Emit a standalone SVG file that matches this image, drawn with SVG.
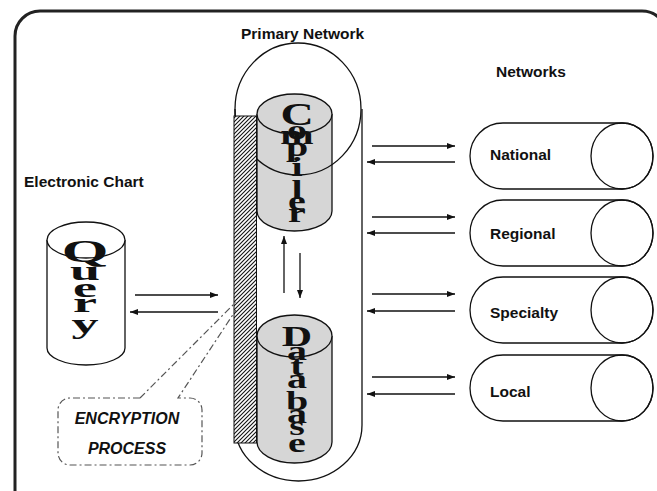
<svg xmlns="http://www.w3.org/2000/svg" width="657" height="491" viewBox="0 0 657 491">
  <defs>
    <pattern id="hatch" patternUnits="userSpaceOnUse" width="4" height="4">
      <rect width="4" height="4" fill="#fff"/>
      <path d="M-1,1 L1,-1 M0,4 L4,0 M3,5 L5,3" stroke="#111" stroke-width="1.1"/>
    </pattern>
    <marker id="ah" markerWidth="8" markerHeight="6" refX="8" refY="3" orient="auto" markerUnits="userSpaceOnUse">
      <path d="M0,0 L8,3 L0,6 Z" fill="#111"/>
    </marker>
  </defs>
  <style>
    .ln{fill:none;stroke:#111;stroke-width:1.3}
    .cyl{fill:#d6d6d6;stroke:#111;stroke-width:1.3}
    .cylw{fill:#fff;stroke:#111;stroke-width:1.3}
    .lbl{font-family:"Liberation Sans",Arial,sans-serif;font-weight:bold;font-size:15.5px;fill:#111}
    .ser{font-family:"Liberation Serif","Times New Roman",serif;font-weight:bold;fill:#111;text-anchor:middle}
    .arr{fill:none;stroke:#111;stroke-width:1.3;marker-end:url(#ah)}
    .dd{fill:none;stroke:#555;stroke-width:1.2;stroke-dasharray:7 3 2 3}
    .enc{font-family:"Liberation Sans",Arial,sans-serif;font-weight:bold;font-style:italic;font-size:16px;fill:#111;text-anchor:middle}
  </style>

  <rect width="657" height="491" fill="#fff"/>

  <!-- outer frame -->
  <path id="frame" d="M15,491 V36 A25,25 0 0 1 40,11 H642 A25,25 0 0 1 667,36 V491" fill="none" stroke="#222" stroke-width="3"/>

  <!-- titles -->
  <g id="titles">
    <text class="lbl" x="241" y="39">Primary Network</text>
    <text class="lbl" x="496" y="77">Networks</text>
    <text class="lbl" x="24" y="187" font-size="15px">Electronic Chart</text>
  </g>

  <!-- primary network pill -->
  <g id="primary-network">
    <path class="ln" d="M235,109 L235,425 A63.5,56 0 0 0 362,425 L362,109"/>
  </g>

  <!-- compiler cylinder, letters stacked vertically (y values in scaled space) -->
  <g id="compiler">
    <path class="cyl" d="M257,114 L257,211 A37.5,20 0 0 0 332,211 L332,114"/>
    <ellipse class="cyl" cx="294.5" cy="114" rx="37.5" ry="20"/>
    <ellipse class="ln" cx="298" cy="109" rx="63" ry="66"/>
    <text class="ser" font-size="40" transform="translate(297,0) scale(1,0.68)"><tspan x="0" y="183.8" font-size="46">C</tspan><tspan x="0" y="204.4">o</tspan><tspan x="0" y="211.8">m</tspan><tspan x="0" y="229.4">p</tspan><tspan x="0" y="258.8">i</tspan><tspan x="0" y="292.6">l</tspan><tspan x="0" y="308.8">e</tspan><tspan x="0" y="326.5">r</tspan></text>
  </g>

  <!-- database cylinder -->
  <g id="database">
    <path class="cyl" d="M257,336 L257,442 A37.5,21 0 0 0 332,442 L332,336"/>
    <ellipse class="cyl" cx="294.5" cy="336" rx="37.5" ry="21"/>
    <text class="ser" font-size="40" transform="translate(297,0) scale(1,0.68)"><tspan x="0" y="508.8" font-size="42">D</tspan><tspan x="0" y="529.4">a</tspan><tspan x="0" y="551.5">t</tspan><tspan x="0" y="570.6">a</tspan><tspan x="0" y="602.9">b</tspan><tspan x="0" y="622.1">a</tspan><tspan x="0" y="639.7">s</tspan><tspan x="0" y="664.7">e</tspan></text>
  </g>

  <!-- encryption layer -->
  <rect id="encryption-layer" x="234" y="116" width="22.5" height="327" fill="url(#hatch)" stroke="#111" stroke-width="1"/>

  <!-- query cylinder -->
  <g id="query">
    <path class="cylw" d="M47,240 L47,348 A39,17 0 0 0 125,348 L125,240"/>
    <ellipse class="cylw" cx="86" cy="240" rx="39" ry="18"/>
    <text class="ser" font-size="54" transform="translate(85,0) scale(1,0.52)"><tspan x="0" y="503.8" font-size="60">Q</tspan><tspan x="0" y="538.5">u</tspan><tspan x="0" y="571.2">e</tspan><tspan x="0" y="600">r</tspan><tspan x="0" y="640.4">y</tspan></text>
  </g>

  <!-- encryption process callout -->
  <g id="callout">
    <path class="dd" d="M140,398 H70 A12,12 0 0 0 58,410 V453 A12,12 0 0 0 70,465 H190 A12,12 0 0 0 202,453 V410 A12,12 0 0 0 190,398 H178 L236,310 M140,398 L236,302"/>
    <text class="enc" x="127" y="424">ENCRYPTION</text>
    <text class="enc" x="127" y="454">PROCESS</text>
  </g>

  <!-- external networks -->
  <g id="national">
    <path class="ln" d="M503,123 H622 A31,33 0 0 1 622,189 H503 A33,33 0 0 1 503,123 Z"/>
    <ellipse class="ln" cx="622" cy="156" rx="31" ry="33"/>
    <text class="lbl" x="490" y="160">National</text>
  </g>
  <g id="regional">
    <path class="ln" d="M503,200 H622 A31,33 0 0 1 622,266 H503 A33,33 0 0 1 503,200 Z"/>
    <ellipse class="ln" cx="622" cy="233" rx="31" ry="33"/>
    <text class="lbl" x="490" y="239">Regional</text>
  </g>
  <g id="specialty">
    <path class="ln" d="M503,277 H622 A31,33 0 0 1 622,343 H503 A33,33 0 0 1 503,277 Z"/>
    <ellipse class="ln" cx="622" cy="310" rx="31" ry="33"/>
    <text class="lbl" x="490" y="318">Specialty</text>
  </g>
  <g id="local">
    <path class="ln" d="M503,355 H622 A31,33 0 0 1 622,421 H503 A33,33 0 0 1 503,355 Z"/>
    <ellipse class="ln" cx="622" cy="388" rx="31" ry="33"/>
    <text class="lbl" x="490" y="397">Local</text>
  </g>

  <!-- connectors -->
  <g id="connectors">
    <path class="arr" d="M135,295 H218"/>
    <path class="arr" d="M218,312 H130"/>
    <path class="arr" d="M284,293 V236"/>
    <path class="arr" d="M300,253 V298"/>
    <path class="arr" d="M372,146 H455"/>
    <path class="arr" d="M455,162 H367"/>
    <path class="arr" d="M372,217 H455"/>
    <path class="arr" d="M455,233 H367"/>
    <path class="arr" d="M372,294 H455"/>
    <path class="arr" d="M455,311 H367"/>
    <path class="arr" d="M372,377 H455"/>
    <path class="arr" d="M455,394 H367"/>
  </g>
</svg>
